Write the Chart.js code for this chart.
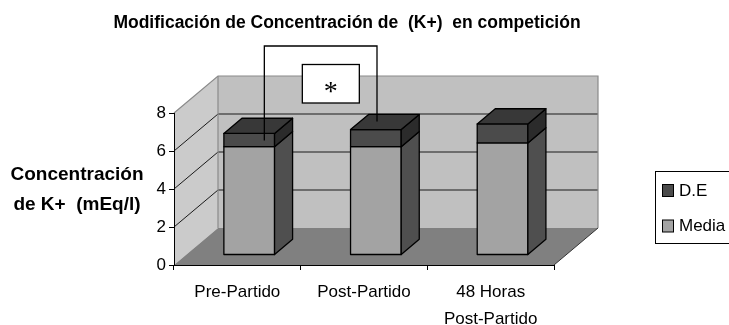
<!DOCTYPE html>
<html>
<head>
<meta charset="utf-8">
<script src="https://cdn.jsdelivr.net/npm/chart.js"></script>
<style>
  html, body { margin: 0; padding: 0; background: #fff; }
  #chart { display: block; }
</style>
</head>
<body>
<canvas id="chart" width="729" height="325"></canvas>
<script>
const categories = ["Pre-Partido", "Post-Partido", ["48 Horas", "Post-Partido"]];
const mediaValues = [5.7, 5.7, 5.9];
const deValues = [0.7, 0.9, 1.0];
const yTicks = [0, 2, 4, 6, 8];
const seriesNames = ["Media", "D.E"];
const chartTitle = "Modificación de Concentración de  (K+)  en competición";
const yTitle = ["Concentración", "de K+  (mEq/l)"];
const markText = "*";

// excel style 3d look
const DX = 44, DY = 37;          // depth of the plot box
const BAR_FRONT = 0.27;          // where the bar front sits in the depth
const BAR_DEPTH = 0.41;          // how deep a bar is
const faces = [
  { front: "#a3a3a3", side: "#4f4f4f", top: "#7a7a7a" },
  { front: "#4b4b4b", side: "#2b2b2b", top: "#383838" }
];
const FONT = "Arial, 'Liberation Sans', sans-serif";

Chart.defaults.font.family = FONT;
Chart.defaults.color = "#000";

function poly(ctx, pts, fill, stroke, lw) {
  ctx.beginPath();
  ctx.moveTo(pts[0][0], pts[0][1]);
  for (let i = 1; i < pts.length; i++) ctx.lineTo(pts[i][0], pts[i][1]);
  ctx.closePath();
  if (fill) { ctx.fillStyle = fill; ctx.fill(); }
  if (stroke) { ctx.strokeStyle = stroke; ctx.lineWidth = lw || 1; ctx.stroke(); }
}

function line(ctx, pts, color, lw) {
  ctx.beginPath();
  ctx.moveTo(pts[0][0], pts[0][1]);
  for (let i = 1; i < pts.length; i++) ctx.lineTo(pts[i][0], pts[i][1]);
  ctx.strokeStyle = color;
  ctx.lineWidth = lw || 1;
  ctx.stroke();
}

const box3d = {
  id: "box3d",
  beforeDraw(chart) {
    const ctx = chart.ctx, a = chart.chartArea, y = chart.scales.y;
    ctx.save();
    // side wall, back wall, floor
    poly(ctx, [[a.left, a.bottom], [a.left, a.top], [a.left + DX, a.top - DY], [a.left + DX, a.bottom - DY]], "#cbcbcb");
    poly(ctx, [[a.left + DX, a.top - DY], [a.right + DX, a.top - DY], [a.right + DX, a.bottom - DY], [a.left + DX, a.bottom - DY]], "#c0c0c0");
    poly(ctx, [[a.left, a.bottom], [a.right, a.bottom], [a.right + DX, a.bottom - DY], [a.left + DX, a.bottom - DY]], "#808080");

    // gridlines on the walls
    yTicks.forEach(v => {
      if (v === y.min || v === y.max) return;
      const py = y.getPixelForValue(v);
      line(ctx, [[a.left, py], [a.left + DX, py - DY], [a.right + DX, py - DY]], "#1a1a1a", 1);
    });

    // wall edges
    line(ctx, [[a.left, a.top], [a.left + DX, a.top - DY], [a.right + DX, a.top - DY], [a.right + DX, a.bottom - DY]], "#8a8a8a", 1.2);
    line(ctx, [[a.left + DX, a.top - DY], [a.left + DX, a.bottom - DY]], "#8a8a8a", 1.2);
    line(ctx, [[a.right, a.bottom], [a.right + DX, a.bottom - DY]], "#333", 1);
    ctx.restore();
  },

  beforeDatasetsDraw(chart) {
    const ctx = chart.ctx;
    const ox = DX * BAR_FRONT, oy = -DY * BAR_FRONT;
    const bx = DX * BAR_DEPTH, by = -DY * BAR_DEPTH;
    const n = chart.data.datasets.length;
    ctx.save();
    ctx.lineJoin = "round";
    for (let i = 0; i < chart.data.labels.length; i++) {
      for (let d = 0; d < n; d++) {
        const el = chart.getDatasetMeta(d).data[i];
        const f = faces[d];
        const l = el.x - el.width / 2 + ox, r = el.x + el.width / 2 + ox;
        const t = el.y + oy, b = el.base + oy;
        poly(ctx, [[l, t], [r, t], [r, b], [l, b]], f.front, "#000", 1.3);
        poly(ctx, [[r, t], [r + bx, t + by], [r + bx, b + by], [r, b]], f.side, "#000", 1.3);
        if (d === n - 1) {
          poly(ctx, [[l, t], [l + bx, t + by], [r + bx, t + by], [r, t]], f.top, "#000", 1.3);
        }
      }
    }
    ctx.restore();
    return false;
  },

  afterDraw(chart) {
    const ctx = chart.ctx, a = chart.chartArea;
    ctx.save();

    // chart title
    ctx.font = "bold 17.5px " + FONT;
    ctx.fillStyle = "#000";
    ctx.textAlign = "center";
    ctx.textBaseline = "middle";
    ctx.fillText(chartTitle, 347, 23);

    // y axis title, horizontal
    ctx.font = "bold 19px " + FONT;
    ctx.fillText(yTitle[0], 77, 175);
    ctx.fillText(yTitle[1], 77, 205);

    // legend with a frame, cut at the right edge
    const lx = 655.5, ly = 171.5;
    ctx.fillStyle = "#fff";
    ctx.fillRect(lx, ly, 90, 72);
    ctx.strokeStyle = "#000";
    ctx.lineWidth = 1;
    ctx.strokeRect(lx, ly, 90, 72);
    ctx.font = "17px " + FONT;
    ctx.textAlign = "left";
    const order = chart.data.datasets.map((ds, k) => k).reverse();
    order.forEach((k, row) => {
      const sy = 184 + row * 35.5;
      ctx.fillStyle = faces[k].front;
      ctx.fillRect(662.5, sy + 0.5, 11, 12);
      ctx.strokeStyle = "#000";
      ctx.strokeRect(662.5, sy + 0.5, 11, 12);
      ctx.fillStyle = "#000";
      ctx.fillText(chart.data.datasets[k].label, 679, sy + 7);
    });

    // significance bracket between the first two bars
    const top = chart.getDatasetMeta(1).data;
    const oy = -DY * BAR_FRONT;
    const x1 = top[0].x + 27, x2 = top[1].x + 13;
    const yTop = a.top - 67;
    line(ctx, [[x1, top[0].y + oy + 7], [x1, yTop], [x2, yTop], [x2, top[1].y + oy - 8]], "#000", 1.3);
    const bxl = x1 + 38, bw = 57, byt = yTop + 18.5, bh = 38.5;
    ctx.fillStyle = "#fff";
    ctx.fillRect(bxl, byt, bw, bh);
    ctx.strokeStyle = "#000";
    ctx.lineWidth = 1.3;
    ctx.strokeRect(bxl, byt, bw, bh);
    ctx.fillStyle = "#000";
    ctx.font = "28px 'Liberation Serif', 'Times New Roman', serif";
    ctx.textAlign = "center";
    ctx.textBaseline = "middle";
    ctx.fillText(markText, bxl + bw / 2, byt + 28);
    ctx.restore();
  }
};

new Chart(document.getElementById("chart"), {
  type: "bar",
  data: {
    labels: categories,
    datasets: [
      { label: seriesNames[0], data: mediaValues, backgroundColor: faces[0].front },
      { label: seriesNames[1], data: deValues, backgroundColor: faces[1].front }
    ]
  },
  options: {
    responsive: false,
    animation: false,
    barPercentage: 0.4,
    categoryPercentage: 1,
    layout: { padding: { left: 144, right: 175, top: 113, bottom: 0 } },
    plugins: {
      legend: { display: false },
      tooltip: { enabled: false },
      title: { display: false }
    },
    scales: {
      x: {
        stacked: true,
        offset: true,
        grid: { offset: true, drawOnChartArea: false, tickLength: 5, color: "#000" },
        border: { color: "#000", width: 1 },
        ticks: { font: { size: 17, lineHeight: 1.6 }, color: "#000", padding: 9, maxRotation: 0, autoSkip: false },
        afterFit: s => { s.height = 60; }
      },
      y: {
        stacked: true,
        min: 0,
        max: 8,
        afterBuildTicks: s => { s.ticks = yTicks.map(v => ({ value: v })); },
        grid: { drawOnChartArea: false, tickLength: 5, color: "#000" },
        border: { color: "#000", width: 1 },
        ticks: { font: { size: 17 }, color: "#000", padding: 3 },
        afterFit: s => { s.width = 30; }
      }
    }
  },
  plugins: [box3d]
});
</script>
</body>
</html>
